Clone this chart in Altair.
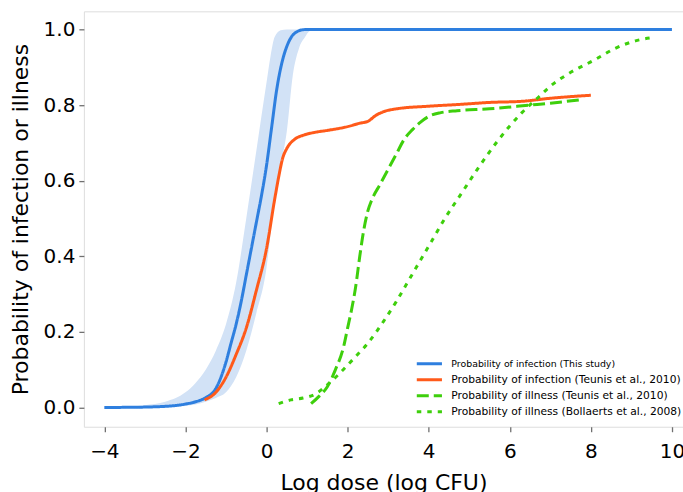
import altair as alt
import pandas as pd

# ---- data ----
blue_x = [-4, -3.5, -3, -2.5, -2.25, -2, -1.75, -1.5, -1.25, -1.0, -0.875, -0.75, -0.625, -0.5, -0.375,
          -0.25, -0.125, 0, 0.125, 0.25, 0.375, 0.5, 0.625, 0.75, 0.875, 1.0, 10]
blue_y = [0.0, 0.0003, 0.001, 0.003, 0.005, 0.009, 0.015, 0.026, 0.05, 0.12, 0.17, 0.22, 0.28, 0.35, 0.42,
          0.49, 0.56, 0.64, 0.74, 0.84, 0.91, 0.955, 0.982, 0.994, 0.999, 1.0, 1.0]

band_x = [-4, -3.5, -3, -2.5, -2, -1.75, -1.5, -1.25, -1.0, -0.75, -0.5, -0.25, 0, 0.1, 0.2, 0.35,
          0.5, 0.65, 0.8, 0.95, 1.05, 1.2, 10]
band_hi = [0.0005, 0.002, 0.006, 0.015, 0.04, 0.065, 0.1, 0.15, 0.22, 0.33, 0.5, 0.68, 0.86, 0.93, 0.98, 0.998,
           1.0, 1.0, 1.0, 1.0, 1.0, 1.0, 1.0]
band_lo = [0.0, 0.0001, 0.0003, 0.001, 0.004, 0.008, 0.015, 0.025, 0.04, 0.08, 0.15, 0.25, 0.37, 0.46, 0.55, 0.64,
           0.73, 0.88, 0.95, 0.98, 0.995, 1.0, 1.0]

orange_x = [-1.53, -1.25, -1.0, -0.75, -0.5, -0.25, 0, 0.2, 0.3, 0.4, 0.5, 0.7, 0.9, 1.2, 1.5, 2.0, 2.3,
            2.5, 2.7, 2.9, 3.2, 4.0, 4.8, 5.5, 6.3, 7.0, 8.0]
orange_y = [0.02, 0.04, 0.08, 0.14, 0.21, 0.31, 0.42, 0.55, 0.61, 0.66, 0.685, 0.71, 0.72, 0.728, 0.733,
            0.743, 0.752, 0.757, 0.773, 0.783, 0.79, 0.797, 0.802, 0.807, 0.81, 0.818, 0.826]

dash_x = [1.1, 1.3, 1.5, 1.7, 1.9, 2.0, 2.1, 2.2, 2.3, 2.4, 2.5, 2.6, 2.8, 3.0, 3.2, 3.4, 3.6, 3.8, 4.0,
          4.3, 4.7, 5.5, 6.5, 7.0, 7.8]
dash_y = [0.01, 0.03, 0.055, 0.1, 0.16, 0.21, 0.26, 0.32, 0.40, 0.47, 0.52, 0.55, 0.59, 0.63, 0.67, 0.71,
          0.735, 0.755, 0.77, 0.78, 0.785, 0.79, 0.80, 0.805, 0.815]

dot_x = [0.3, 0.6, 0.9, 1.2, 1.5, 1.8, 2.2, 2.5, 2.9, 3.2, 3.5, 3.8, 4.1, 4.4, 4.8, 5.2, 5.7, 6.3, 6.7,
         7.0, 7.4, 8.1, 8.6, 9.1, 9.5]
dot_y = [0.01, 0.02, 0.025, 0.035, 0.06, 0.09, 0.135, 0.17, 0.23, 0.28, 0.335, 0.39, 0.445, 0.5, 0.565,
         0.63, 0.705, 0.78, 0.82, 0.85, 0.88, 0.92, 0.95, 0.97, 0.978]

series_names = [
    "Probability of infection (This study)",
    "Probability of infection (Teunis et al., 2010)",
    "Probability of illness (Teunis et al., 2010)",
    "Probability of illness (Bollaerts et al., 2008)",
]
series_colors = ["#2e7fdf", "#ff5a1a", "#3ecf0c", "#3ecf0c"]
series_dashes = [[1, 0], [1, 0], [12, 5], [4.5, 6]]
series_widths = [3, 3, 3.5, 4.5]
x_ticks = [-4, -2, 0, 2, 4, 6, 8, 10]
y_ticks = [0.0, 0.2, 0.4, 0.6, 0.8, 1.0]

rows = []
for name, xs, ys in zip(series_names,
                        [blue_x, orange_x, dash_x, dot_x],
                        [blue_y, orange_y, dash_y, dot_y]):
    for i, (xv, yv) in enumerate(zip(xs, ys)):
        rows.append({"series": name, "x": xv, "y": yv, "order": i})
lines_df = pd.DataFrame(rows)
band_df = pd.DataFrame({"x": band_x, "lo": band_lo, "hi": band_hi})

xscale = alt.Scale(domain=[-4.505, 10.273], nice=False, zero=False)
yscale = alt.Scale(domain=[-0.051, 1.048], nice=False, zero=False)

xaxis = alt.Axis(values=x_ticks, format="d", title="Log dose (log CFU)",
                 grid=False, domain=False, tickSize=5, tickColor="#707070", tickWidth=1.3,
                 labelFontSize=20, labelPadding=10, labelColor="black", labelFont="DejaVu Sans",
                 titleFontSize=22, titleFont="DejaVu Sans", titleFontWeight="normal",
                 titleColor="black", titlePadding=11)
yaxis = alt.Axis(values=y_ticks, format=".1f", title="Probability of infection or illness",
                 grid=False, domain=False, tickSize=5, tickColor="#707070", tickWidth=1.3,
                 labelFontSize=20, labelPadding=4, labelColor="black", labelFont="DejaVu Sans",
                 titleFontSize=22, titleFont="DejaVu Sans", titleFontWeight="normal",
                 titleColor="black", titlePadding=11)

band = alt.Chart(band_df).mark_area(color="#d2e2f6", opacity=1, interpolate="monotone").encode(
    x=alt.X("x:Q", scale=xscale, axis=xaxis),
    y=alt.Y("lo:Q", scale=yscale, axis=yaxis),
    y2="hi:Q",
)

label_size = alt.ExprRef("datum.label == '" + series_names[0] + "' ? 9.4 : 10.7")

legend = alt.Legend(title=None, orient="none", legendX=338.5, legendY=345.5,
                    symbolType="M-2.1,0H2.1", symbolSize=144, symbolStrokeWidth=3.5,
                    labelFont="DejaVu Sans", labelFontSize=label_size, labelColor="black",
                    rowPadding=2, labelOffset=14.5, padding=0, labelLimit=400)

lines = alt.Chart(lines_df).mark_line(strokeCap="butt", interpolate="monotone").encode(
    x=alt.X("x:Q", scale=xscale),
    y=alt.Y("y:Q", scale=yscale),
    color=alt.Color("series:N", scale=alt.Scale(domain=series_names, range=series_colors),
                    legend=legend),
    strokeDash=alt.StrokeDash("series:N", scale=alt.Scale(domain=series_names, range=series_dashes),
                              legend=legend),
    strokeWidth=alt.StrokeWidth("series:N", scale=alt.Scale(domain=series_names, range=series_widths),
                                legend=None),
    order="order:Q",
)

chart = (band + lines).properties(
    width=600, height=416,
    autosize=alt.AutoSizeParams(type="none"),
    padding={"left": 84, "top": 11, "right": 0, "bottom": 65},
).configure_view(stroke="#808080", strokeWidth=1.3).configure(background="white")

chart.save("out.html", embed_options={"renderer": "svg", "actions": False})
